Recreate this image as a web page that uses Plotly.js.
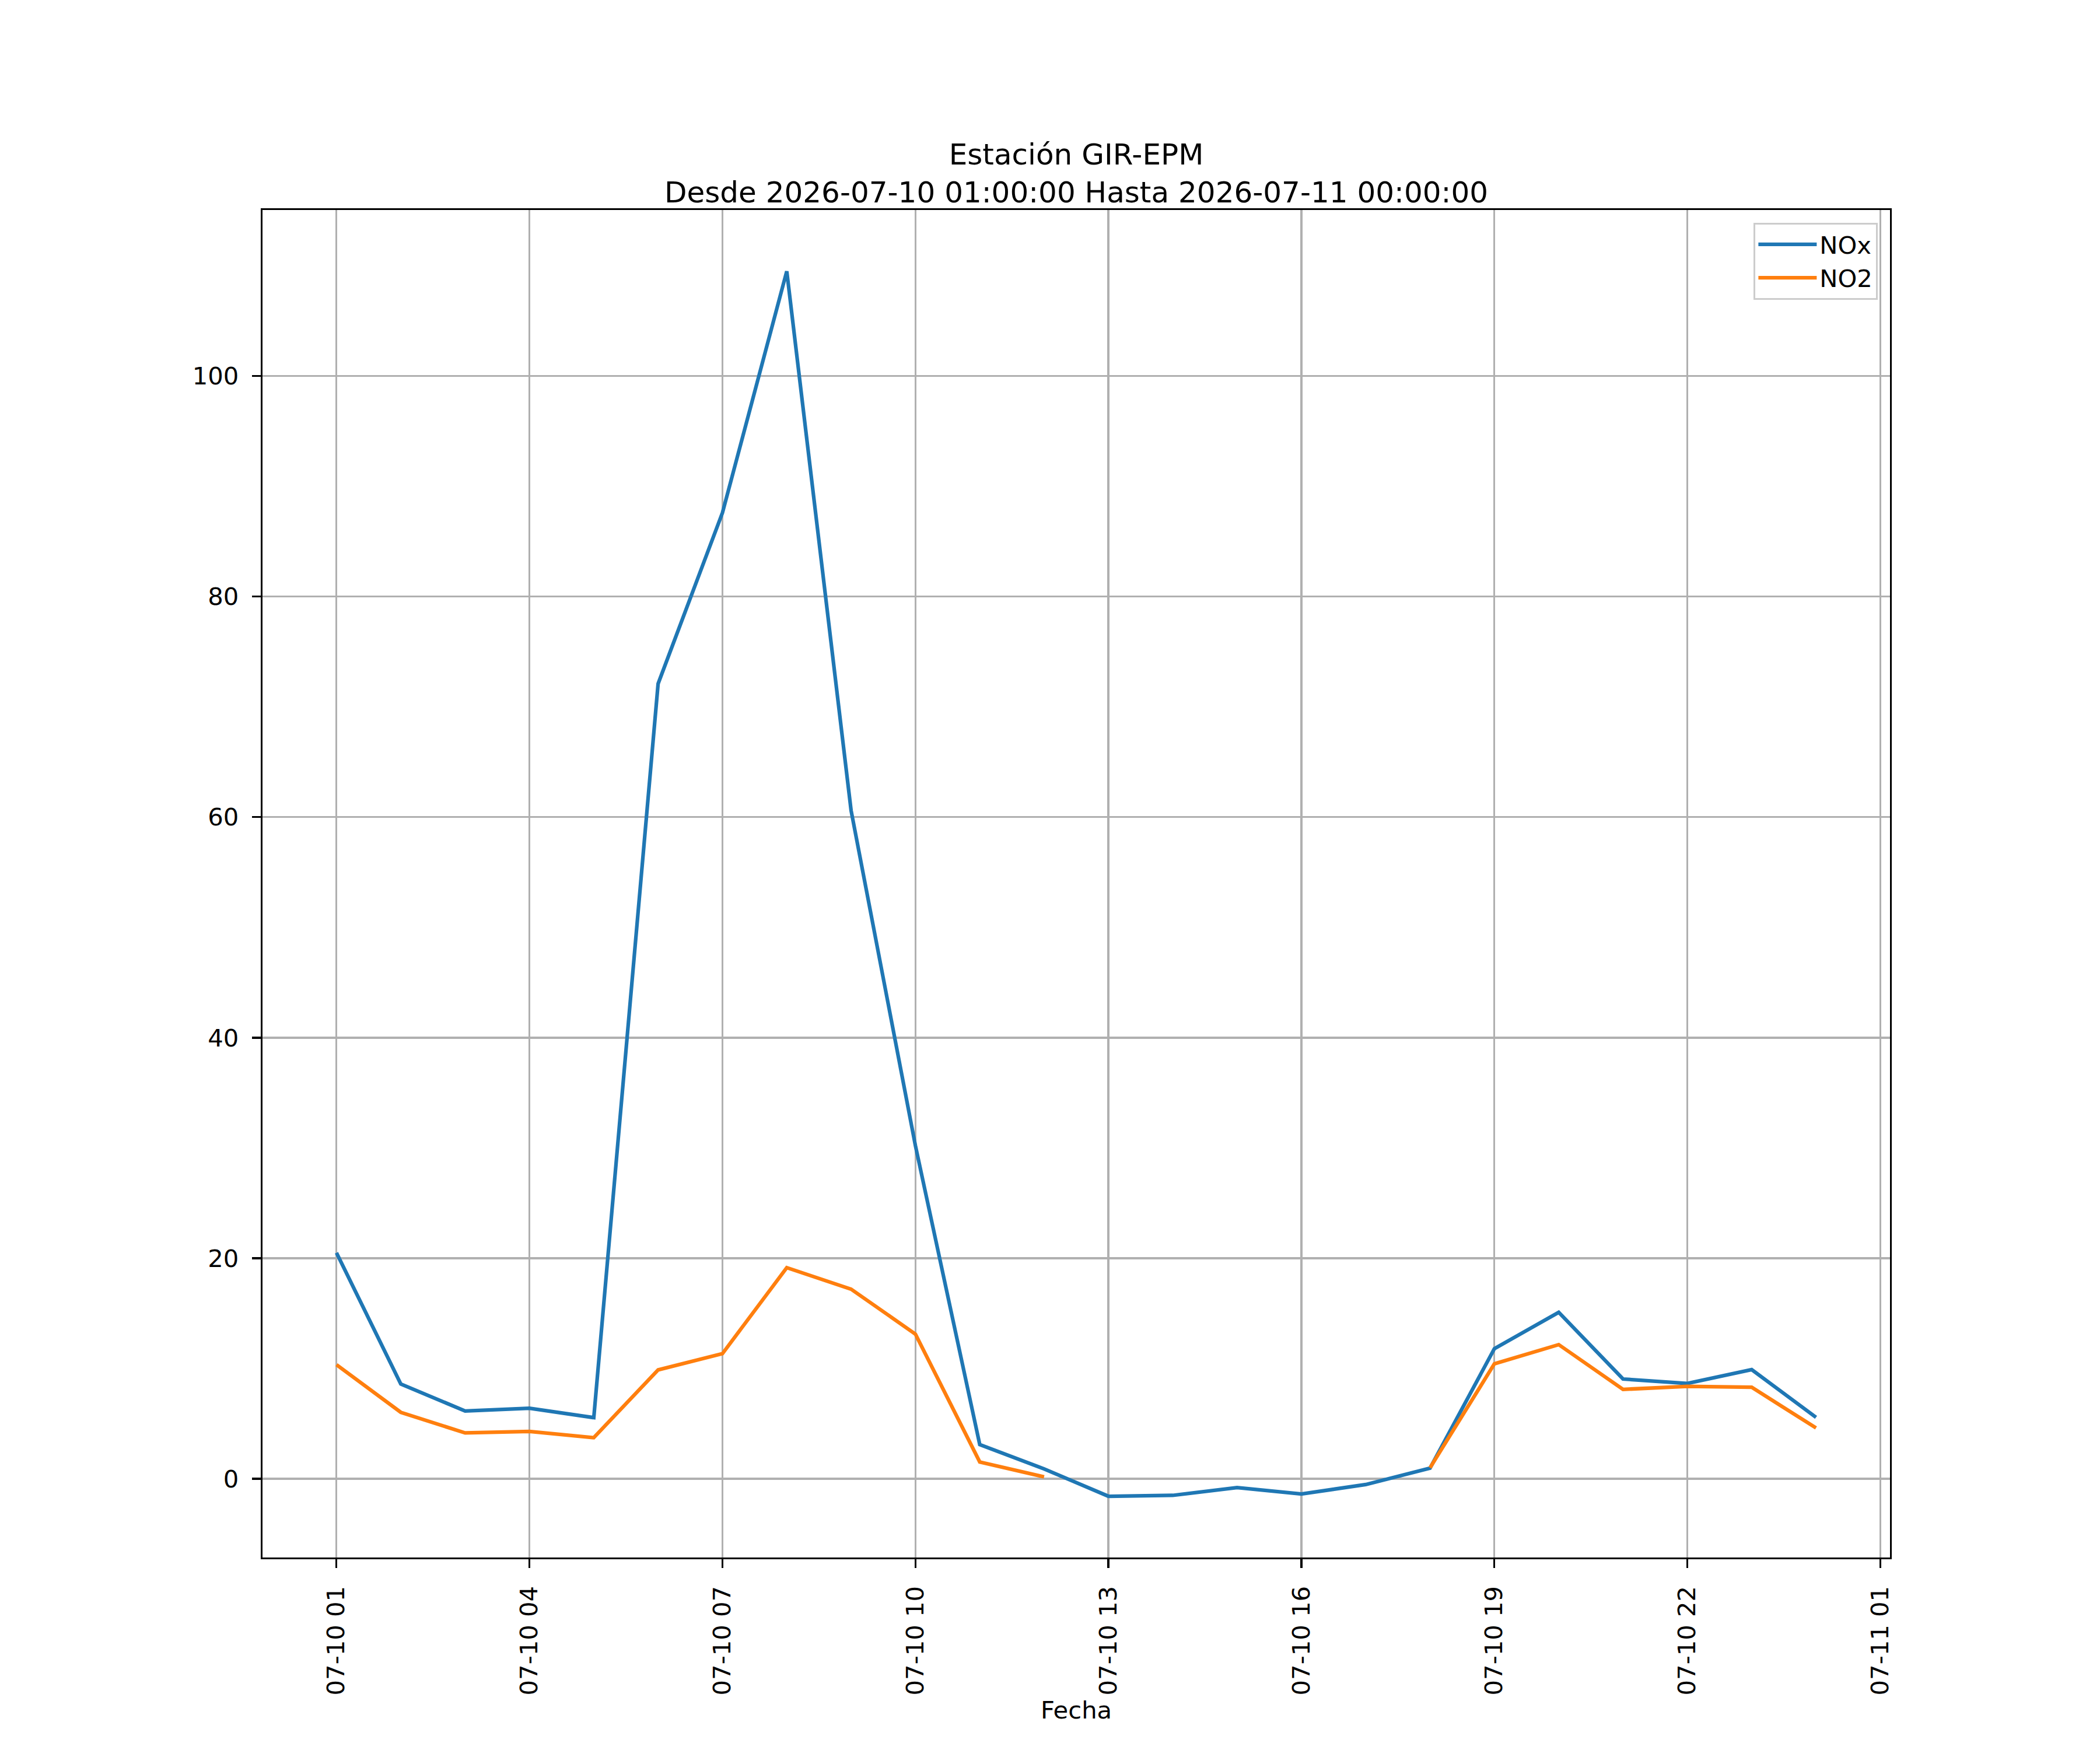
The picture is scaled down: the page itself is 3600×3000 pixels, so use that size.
<!DOCTYPE html>
<html>
<head>
<meta charset="utf-8">
<script src="https://cdn.plot.ly/plotly-3.0.1.min.js"></script>
<style>
  body { margin: 0; background: #ffffff; }
  #graph { width: 3600px; height: 3000px; }
</style>
</head>
<body>
<div id="graph"></div>
<script>
// hourly samples, 2026-07-10 01:00 .. 2026-07-11 00:00
let fechas = [
  "2026-07-10 01:00", "2026-07-10 02:00", "2026-07-10 03:00", "2026-07-10 04:00",
  "2026-07-10 05:00", "2026-07-10 06:00", "2026-07-10 07:00", "2026-07-10 08:00",
  "2026-07-10 09:00", "2026-07-10 10:00", "2026-07-10 11:00", "2026-07-10 12:00",
  "2026-07-10 13:00", "2026-07-10 14:00", "2026-07-10 15:00", "2026-07-10 16:00",
  "2026-07-10 17:00", "2026-07-10 18:00", "2026-07-10 19:00", "2026-07-10 20:00",
  "2026-07-10 21:00", "2026-07-10 22:00", "2026-07-10 23:00", "2026-07-11 00:00"
];
let nox = [
  20.5, 8.6, 6.15, 6.4, 5.55, 72.1, 87.6, 109.5,
  60.6, 30.2, 3.1, 0.9, -1.58, -1.5, -0.8, -1.37,
  -0.52, 0.97, 11.8, 15.1, 9.05, 8.65, 9.9, 5.58
];
let no2 = [
  10.35, 6.03, 4.16, 4.3, 3.73, 9.88, 11.35, 19.15,
  17.2, 13.12, 1.53, 0.18, null, null, null, null,
  null, 1.0, 10.43, 12.17, 8.11, 8.39, 8.3, 4.61
];
let nombres = ["NOx", "NO2"];
let colores = ["#1f77b4", "#ff7f0e"];
let titulo = "Estación GIR-EPM<br>Desde 2026-07-10 01:00:00 Hasta 2026-07-11 00:00:00";

// matplotlib style 5% margins
function rango_x() {
  let t0 = new Date(fechas[0].replace(" ", "T") + ":00Z").getTime();
  let t1 = new Date(fechas[fechas.length - 1].replace(" ", "T") + ":00Z").getTime();
  let m = (t1 - t0) * 0.05;
  let fmt = (t) => new Date(t).toISOString().replace("T", " ").slice(0, 19);
  return [fmt(t0 - m), fmt(t1 + m)];
}

function rango_y() {
  let vals = nox.concat(no2).filter((v) => v !== null);
  let lo = Math.min(...vals);
  let hi = Math.max(...vals);
  let m = (hi - lo) * 0.05;
  return [lo - m, hi + m];
}

let fuente = "DejaVu Sans, Liberation Sans, sans-serif";

let traces = [nox, no2].map((serie, i) => ({
  x: fechas,
  y: serie,
  name: nombres[i],
  type: "scatter",
  mode: "lines",
  line: { color: colores[i], width: 6.25 },
  connectgaps: false,
  hoverinfo: "skip",
}));

let eje = {
  showgrid: true,
  gridcolor: "#b0b0b0",
  gridwidth: 3.3,
  zeroline: false,
  showline: true,
  mirror: true,
  linecolor: "#000000",
  linewidth: 3.3,
  ticks: "outside",
  ticklen: 15,
  tickwidth: 3.3,
  tickcolor: "#000000",
  ticklabelstandoff: 14,
  tickfont: { family: fuente, size: 41.7, color: "#000000" },
  fixedrange: true,
};

let layout = {
  width: 3600,
  height: 3000,
  paper_bgcolor: "#ffffff",
  plot_bgcolor: "#ffffff",
  margin: { l: 450, r: 360, t: 360, b: 330 },
  title: {
    text: titulo,
    font: { family: fuente, size: 50, color: "#000000" },
    x: 0.5,
    xref: "paper",
    xanchor: "center",
    y: 1,
    yref: "paper",
    yanchor: "bottom",
    pad: { b: 78 },
  },
  xaxis: Object.assign({}, eje, {
    type: "date",
    range: rango_x(),
    tick0: "2026-07-10 01:00",
    dtick: 3 * 3600 * 1000,
    tickformat: "%m-%d %H",
    tickangle: -90,
    title: {
      text: "Fecha",
      font: { family: fuente, size: 41.7, color: "#000000" },
      standoff: 12,
    },
  }),
  yaxis: Object.assign({}, eje, {
    range: rango_y(),
    tick0: 0,
    dtick: 20,
  }),
  showlegend: true,
  legend: {
    x: 0.9925,
    xanchor: "right",
    y: 0.9905,
    yanchor: "top",
    bgcolor: "rgba(255,255,255,0.8)",
    bordercolor: "#cccccc",
    borderwidth: 3.3,
    font: { family: fuente, size: 41.7, color: "#000000" },
    itemwidth: 100,
    tracegroupgap: 0,
  },
};

Plotly.newPlot("graph", traces, layout, { staticPlot: true });
</script>
</body>
</html>
